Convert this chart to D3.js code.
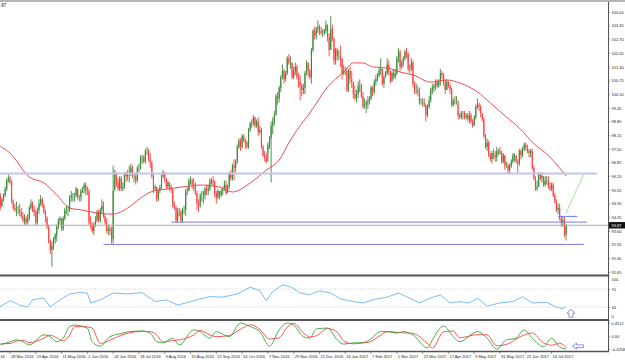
<!DOCTYPE html>
<html>
<head>
<meta charset="utf-8">
<script src="https://cdn.jsdelivr.net/npm/d3@7"></script>
<style>
  body { margin: 0; background: #fff; }
  text { font-family: 'Liberation Sans', Arial, sans-serif; }
</style>
</head>
<body>
<div class="canvas"></div>
<script>
// daily bars, one per trading day (bar 6 = 28 Mar 2016, last bar = 27 Jul 2017)
const open0 = 95.3;
const closes = [
  94.8,95.1,95.3,95.6,96.0,96.1,95.9,95.0,94.7,94.6,94.6,94.6,94.5,94.3,94.1,94.2,
  94.0,94.2,94.7,94.9,94.6,94.5,94.0,94.6,94.9,95.1,94.8,94.5,94.2,93.8,93.1,92.7,
  92.9,93.2,93.4,93.8,94.1,94.2,93.7,94.2,94.6,94.6,94.6,95.2,95.3,95.3,95.3,95.6,
  95.2,95.2,95.5,95.6,95.8,95.5,95.5,94.0,93.9,93.6,93.9,94.1,94.5,94.1,94.6,94.8,
  94.3,94.0,93.6,93.7,93.6,93.2,95.5,96.3,95.9,95.6,96.1,95.6,95.7,96.3,96.2,96.3,
  96.3,96.6,96.2,96.2,96.0,96.6,96.6,97.1,97.1,96.9,97.4,97.4,97.0,96.8,96.2,95.6,
  95.7,95.1,95.5,95.7,96.2,96.4,96.1,95.7,95.9,95.7,95.6,94.8,94.7,94.1,94.5,94.5,
  94.1,94.6,94.6,95.5,95.5,96.0,96.0,95.8,95.8,95.4,94.9,94.8,95.3,95.3,95.3,95.6,
  95.5,95.6,96.0,96.0,95.9,95.4,95.2,95.5,95.3,95.5,95.6,95.8,95.4,95.7,96.3,96.1,
  96.7,96.6,96.9,97.6,97.9,97.6,98.1,97.9,97.8,97.6,98.4,98.7,98.7,99.0,98.6,98.8,
  98.3,98.4,97.6,97.2,97.1,96.9,97.7,98.0,98.6,98.8,99.1,100.0,99.9,100.4,100.9,101.2,
  100.8,101.1,101.8,101.6,101.6,100.9,101.2,101.4,100.9,100.7,100.5,100.3,100.4,101.1,101.6,101.2,
  100.9,102.2,103.1,102.9,103.2,103.3,103.1,103.0,103.0,103.1,103.4,102.8,102.2,103.2,102.7,101.7,
  102.2,101.9,101.9,101.8,101.1,101.2,101.2,100.3,101.2,100.8,100.7,100.1,99.9,100.1,100.5,100.5,
  100.0,99.5,99.6,99.7,99.8,99.9,100.4,100.2,100.7,100.8,101.0,101.2,101.3,100.6,100.9,101.1,
  101.5,101.2,100.7,101.1,100.9,101.1,101.8,102.1,101.4,101.6,101.8,102.1,102.0,101.3,101.3,101.6,
  100.6,100.3,100.3,100.2,99.7,99.7,99.7,99.6,99.1,99.5,99.8,100.3,100.4,100.5,100.7,100.5,
  100.7,101.1,101.0,100.6,100.3,100.7,100.5,100.3,99.6,99.8,99.8,99.8,99.1,99.0,99.2,99.2,
  99.0,99.1,98.9,99.1,98.8,98.6,99.0,99.5,99.6,99.5,99.2,98.9,98.1,97.6,97.8,97.2,
  97.0,97.3,97.2,97.1,97.4,97.4,97.3,96.9,97.2,96.7,96.7,96.5,96.7,96.9,97.2,97.2,
  96.9,96.8,97.4,97.2,97.5,97.7,97.6,97.4,97.3,97.4,96.6,96.1,95.6,95.7,96.3,96.1,
  96.2,95.8,96.0,96.0,95.7,95.6,95.8,95.3,95.0,94.6,94.7,94.2,94.0,94.1,93.4,93.87
];
const highs = [
  95.4,95.2,95.4,95.7,96.1,96.3,96.2,96.0,95.1,94.9,95.0,94.8,94.9,94.7,94.5,94.4,
  94.3,94.4,94.8,95.1,95.0,94.8,94.6,94.7,95.1,95.3,95.2,94.9,94.6,94.3,93.9,93.2,
  93.1,93.3,93.5,93.9,94.2,94.3,94.2,94.3,94.7,94.8,94.8,95.3,95.5,95.4,95.4,95.7,
  95.6,95.3,95.6,95.7,95.9,95.9,95.7,95.6,94.3,94.0,94.0,94.3,94.6,94.6,94.7,95.1,
  95.0,94.4,94.2,93.9,93.9,93.8,96.7,96.5,96.4,96.1,96.2,96.2,95.9,96.4,96.4,96.5,
  96.7,96.8,96.7,96.4,96.3,96.7,96.8,97.2,97.2,97.2,97.5,97.6,97.5,97.3,96.9,96.3,
  95.8,95.7,95.6,95.8,96.3,96.5,96.4,96.1,96.0,95.9,95.8,95.6,95.0,94.8,94.7,94.7,
  94.6,94.7,94.8,95.6,95.7,96.1,96.2,96.1,96.1,95.9,95.5,95.1,95.4,95.5,95.5,95.7,
  95.8,95.8,96.1,96.1,96.2,96.0,95.5,95.6,95.5,95.6,95.7,96.0,96.0,95.8,96.4,96.5,
  96.8,97.0,97.0,97.7,98.0,98.0,98.2,98.2,98.0,97.9,98.5,98.8,98.9,99.1,99.0,98.9,
  99.0,98.6,98.5,97.7,97.4,97.3,97.8,98.1,98.8,99.0,99.3,100.1,100.2,100.5,101.0,101.5,
  101.3,101.2,101.9,102.0,101.9,101.6,101.4,101.6,101.5,101.1,101.0,100.6,100.6,101.2,101.7,101.6,
  101.3,102.3,103.2,103.3,103.3,103.6,103.4,103.3,103.2,103.2,103.6,103.4,103.0,103.8,103.4,102.8,
  102.3,102.3,102.2,102.4,101.8,101.5,101.4,101.3,101.3,101.4,101.2,100.6,100.5,100.3,100.7,100.8,
  100.6,100.2,99.9,99.8,100.0,100.0,100.5,100.5,100.8,101.0,101.1,101.4,101.8,101.3,101.0,101.2,
  101.8,101.7,101.2,101.2,101.3,101.3,101.9,102.3,102.2,101.7,101.9,102.2,102.3,102.1,101.5,101.8,
  101.7,100.7,100.6,100.5,100.4,99.9,99.9,99.9,99.6,99.6,100.0,100.4,100.6,100.6,100.8,100.8,
  100.8,101.3,101.2,101.1,100.8,100.8,100.7,100.6,100.4,99.9,100.0,100.0,99.6,99.2,99.3,99.3,
  99.3,99.2,99.2,99.3,99.2,98.9,99.1,99.6,99.9,99.7,99.6,99.2,99.0,98.2,98.0,97.9,
  97.3,97.4,97.5,97.4,97.6,97.5,97.6,97.4,97.3,97.2,96.9,96.8,96.8,97.0,97.3,97.3,
  97.2,97.0,97.5,97.5,97.6,97.8,97.8,97.7,97.5,97.5,97.5,96.7,96.2,96.0,96.4,96.3,
  96.4,96.2,96.2,96.2,96.2,95.9,95.9,95.9,95.4,95.1,94.9,94.9,94.3,94.3,94.3,93.95
];
const lows = [
  94.6,94.7,95.0,95.2,95.5,95.9,95.8,94.9,94.6,94.5,94.3,94.4,94.3,94.2,94.0,93.9,
  93.9,93.9,94.1,94.6,94.5,94.3,93.9,93.9,94.4,94.8,94.7,94.4,94.0,93.7,93.0,92.5,
  91.9,92.7,93.0,93.1,93.7,93.9,93.6,93.6,94.1,94.4,94.3,94.5,95.0,95.0,95.0,95.2,
  95.1,95.0,95.0,95.4,95.4,95.3,95.3,93.9,93.7,93.5,93.4,93.8,94.0,94.0,94.0,94.4,
  94.2,93.9,93.5,93.4,93.4,93.0,93.0,95.6,95.7,95.5,95.5,95.5,95.5,95.6,95.9,96.0,
  95.9,96.2,96.1,95.9,95.8,95.9,96.4,96.5,96.8,96.8,96.8,97.2,96.9,96.6,96.1,95.4,
  95.5,95.0,95.0,95.4,95.6,96.1,95.9,95.6,95.6,95.5,95.4,94.7,94.6,94.0,94.0,94.3,
  94.0,94.0,94.4,94.3,95.3,95.5,95.8,95.6,95.5,95.3,94.6,94.5,94.7,95.0,94.9,95.1,
  95.3,95.3,95.5,95.8,95.7,95.2,94.9,95.1,95.1,95.2,95.3,95.5,95.3,95.4,95.6,96.0,
  96.0,96.0,96.4,96.8,97.5,97.4,97.5,97.8,97.5,97.5,97.5,98.3,98.5,98.6,98.5,98.5,
  98.1,98.2,97.5,97.1,96.9,96.8,97.3,97.5,95.9,98.2,98.6,99.1,99.6,99.7,100.2,100.8,
  100.6,100.7,101.0,101.5,101.3,100.8,100.8,101.0,100.8,100.4,99.8,100.0,100.1,100.1,101.0,100.9,
  100.8,100.6,102.1,102.7,102.7,103.0,102.9,102.9,102.8,102.9,103.0,102.6,101.9,102.2,102.6,101.5,
  101.5,101.7,101.7,101.4,100.8,101.0,101.0,100.2,100.2,100.6,100.4,99.9,99.8,99.7,99.9,100.2,
  99.9,99.4,99.4,99.2,99.4,99.6,99.8,100.0,100.1,100.5,100.7,100.9,101.0,100.5,100.4,100.9,
  101.0,101.0,100.6,100.7,100.8,100.8,101.0,101.6,101.2,101.3,101.4,101.7,101.8,101.2,101.1,101.2,
  100.4,100.1,100.1,100.0,99.6,99.6,99.5,99.5,98.8,99.0,99.4,99.7,100.1,100.2,100.3,100.4,
  100.4,100.5,100.8,100.5,100.1,100.3,100.4,100.1,99.5,99.5,99.6,99.6,98.9,98.9,98.9,98.9,
  98.9,98.9,98.8,98.7,98.7,98.5,98.6,98.9,99.4,99.3,99.0,98.8,98.0,97.5,97.4,97.1,
  96.9,96.8,97.0,96.9,96.9,97.2,97.2,96.8,96.8,96.5,96.6,96.3,96.3,96.6,96.8,96.9,
  96.8,96.3,96.7,97.0,97.1,97.4,97.4,97.3,97.1,97.1,96.5,96.0,95.5,95.5,95.7,96.0,
  95.9,95.7,95.7,95.8,95.6,95.5,95.5,95.2,94.9,94.5,94.4,94.1,93.8,93.8,93.3,93.15
];

// moving average at these bars
const maBars = [0,6,18,27,35,43,51,60,70,79,87,95,103,113,124,136,144,155,165,173,180,184,192,203,213,219,225,231,240,248,256,267,277,285,296,304,314,322,330,341,351];
const maVals = [97.63,97.30,96.16,95.88,95.31,94.69,94.59,94.45,94.40,94.69,95.16,95.50,95.59,95.69,95.78,95.69,95.45,95.88,96.49,96.97,97.92,98.39,99.20,100.44,101.15,101.58,101.58,101.39,101.34,101.15,101.01,100.67,100.77,100.63,100.20,99.68,99.01,98.49,97.82,97.11,96.21];

// RSI panel
const rsiBars = [0,6,12,17,20,27,31,37,43,49,54,56,62,70,79,88,96,103,110,116,122,130,138,147,155,161,165,169,175,180,186,192,198,205,211,219,225,231,240,247,252,260,267,273,279,285,291,296,302,310,318,324,330,339,345,349,351];
const rsiVals = [31,44,34,30,46,50,30,46,59,62,61,39,46,61,59,62,42,46,34,40,46,53,52,59,74,66,44,64,79,75,61,57,66,61,48,42,39,46,52,61,53,39,50,57,39,42,39,50,32,39,42,53,39,40,30,26,32];

// oscillator panel (main + signal)
const oscBars = [0,6,10,14,18,27,31,35,39,43,46,54,57,62,68,76,80,88,93,97,101,107,111,120,124,130,134,142,149,155,161,167,173,178,182,188,192,196,203,209,213,219,225,229,236,240,246,250,256,265,268,275,281,285,296,302,308,314,320,325,330,337,342,347,351];
const oscMain = [-0.29,-0.18,-0.12,-0.18,-0.29,0.05,-0.01,-0.18,-0.06,0.33,0.38,0.28,-0.18,-0.33,-0.01,0.11,0.16,0.18,0.11,-0.18,-0.22,-0.06,-0.29,0.22,0.16,-0.06,0.16,-0.01,0.45,0.33,0.16,-0.33,0.22,0.45,0.38,-0.01,-0.06,0.25,0.28,-0.12,-0.26,-0.22,-0.21,-0.12,0.16,0.16,0.11,0.16,0.05,-0.39,-0.12,0.35,-0.01,-0.18,0.16,-0.06,-0.43,-0.12,-0.06,0.22,-0.06,-0.35,-0.06,-0.36,-0.43];
const oscSignal = [-0.25,-0.24,-0.16,-0.13,-0.21,-0.06,0.04,-0.05,-0.15,0.04,0.33,0.32,0.28,-0.24,-0.13,0.06,0.12,0.17,0.16,0.05,-0.19,-0.14,-0.12,0.05,0.20,0.05,-0.01,0.03,0.24,0.39,0.24,-0.09,-0.05,0.31,0.44,0.12,-0.02,0.02,0.26,0.15,-0.16,-0.25,-0.22,-0.19,0.04,0.16,0.14,0.12,0.10,-0.24,-0.39,0.15,0.18,-0.05,0.06,0.05,-0.32,-0.27,-0.09,0.05,0.11,-0.22,-0.30,-0.23,-0.38];

// drawn levels: [price, fromBar, toBar, kind]
const levels = [
  [96.33, -1, 370, 'zone'],
  [94.02, 106, 364, 'level'],
  [92.96, 64, 362, 'level'],
  [94.29, 346, 358, 'level']
];
const trendLine = [[351, 94.45], [362, 96.30]];
const lastPrice = 93.87;

const priceTicks = [104.00,103.35,102.70,102.05,101.40,100.75,100.10,99.45,98.80,98.15,97.50,96.85,96.20,95.55,94.90,94.25,93.60,92.95,92.30,91.65];
const rsiTicks = [100, 70, 30, 0];
const oscTicks = [0.4512, 0, -0.4258];
// first entry is the tail of a date label cut by the left edge
const dateLabels = ['16','28 Mar 2016','19 Apr 2016','11 May 2016','2 Jun 2016','24 Jun 2016','18 Jul 2016','9 Aug 2016','31 Aug 2016','22 Sep 2016','14 Oct 2016','7 Nov 2016','29 Nov 2016','21 Dec 2016','16 Jan 2017','7 Feb 2017','1 Mar 2017','23 Mar 2017','17 Apr 2017','9 May 2017','31 May 2017','22 Jun 2017','14 Jul 2017'];

const dims = {width: 625, height: 360, plotRight: 608};

const svg = d3.select('.canvas')
    .append('svg')
    .attr('width', dims.width)
    .attr('height', dims.height)
    .style('display', 'block');

const x = d3.scaleLinear().domain([-0.2, 377]).range([0, dims.plotRight]);
const y = d3.scaleLinear().domain([91.65, 104]).range([272, 12]);
const yRsi = d3.scaleLinear().domain([0, 100]).range([320.5, 275.5]);
const yOsc = d3.scaleLinear().domain([-0.4258, 0.4512]).range([349, 323]);

const defs = svg.append('defs');
defs.append('clipPath').attr('id', 'clipMain')
    .append('rect').attr('x', 0).attr('y', 2).attr('width', dims.plotRight).attr('height', 272);
defs.append('clipPath').attr('id', 'clipRsi')
    .append('rect').attr('x', 0).attr('y', 276.5).attr('width', dims.plotRight).attr('height', 43);
defs.append('clipPath').attr('id', 'clipOsc')
    .append('rect').attr('x', 0).attr('y', 321).attr('width', dims.plotRight).attr('height', 30);

// ---- main price panel ----
const main = svg.append('g').attr('clip-path', 'url(#clipMain)');

const bars = closes.map((c, i) => ({
    i: i,
    open: i ? closes[i - 1] : open0,
    high: highs[i],
    low: lows[i],
    close: c
}));

const upCol = '#3a8a3a';
const downCol = '#ff4040';

main.selectAll('.wick')
    .data(bars)
    .enter()
    .append('line')
    .attr('class', 'wick')
    .attr('x1', d => x(d.i))
    .attr('x2', d => x(d.i))
    .attr('y1', d => y(d.high))
    .attr('y2', d => y(d.low))
    .attr('stroke', d => d.close >= d.open ? upCol : downCol)
    .attr('stroke-width', 0.9);

main.selectAll('.body')
    .data(bars)
    .enter()
    .append('line')
    .attr('class', 'body')
    .attr('x1', d => x(d.i))
    .attr('x2', d => x(d.i))
    .attr('y1', d => y(d.open))
    .attr('y2', d => y(d.close))
    .attr('stroke', d => d.close >= d.open ? upCol : downCol)
    .attr('stroke-width', 1.1);

const maData = maBars.map((b, k) => ({bar: b, val: maVals[k]}));
main.append('path')
    .datum(maData)
    .attr('fill', 'none')
    .attr('stroke', '#f24d4d')
    .attr('stroke-width', 1)
    .attr('d', d3.line().x(d => x(d.bar)).y(d => y(d.val)).curve(d3.curveMonotoneX));

// horizontal levels
main.selectAll('.lvl')
    .data(levels)
    .enter()
    .append('line')
    .attr('class', 'lvl')
    .attr('x1', d => x(d[1]))
    .attr('x2', d => x(d[2]))
    .attr('y1', d => y(d[0]))
    .attr('y2', d => y(d[0]))
    .attr('stroke', d => d[3] === 'zone' ? '#c3c3f2' : '#7a7ae8')
    .attr('stroke-width', d => d[3] === 'zone' ? 2 : 1);

main.append('line')
    .attr('x1', 0).attr('x2', dims.plotRight)
    .attr('y1', y(lastPrice)).attr('y2', y(lastPrice))
    .attr('stroke', '#a3b3b3')
    .attr('stroke-width', 1);

main.append('line')
    .attr('x1', x(trendLine[0][0])).attr('y1', y(trendLine[0][1]))
    .attr('x2', x(trendLine[1][0])).attr('y2', y(trendLine[1][1]))
    .attr('stroke', '#3cc03c')
    .attr('stroke-width', 0.8)
    .attr('stroke-dasharray', '1.5,1');

// ---- RSI panel ----
const rsiG = svg.append('g').attr('clip-path', 'url(#clipRsi)');
rsiG.selectAll('.rsiLevel')
    .data([70, 30])
    .enter()
    .append('line')
    .attr('x1', 0).attr('x2', dims.plotRight)
    .attr('y1', d => yRsi(d)).attr('y2', d => yRsi(d))
    .attr('stroke', '#b8b8b8')
    .attr('stroke-width', 0.7)
    .attr('stroke-dasharray', '1,1.5');

const rsiData = rsiBars.map((b, k) => ({bar: b, val: rsiVals[k]}));
rsiG.append('path')
    .datum(rsiData)
    .attr('fill', 'none')
    .attr('stroke', '#6cb3f5')
    .attr('stroke-width', 0.9)
    .attr('d', d3.line().x(d => x(d.bar)).y(d => yRsi(d.val)));

// ---- oscillator panel ----
const oscG = svg.append('g').attr('clip-path', 'url(#clipOsc)');
const oscLine = key => d3.line()
    .x(d => x(d.bar))
    .y(d => yOsc(d[key]))
    .curve(d3.curveMonotoneX);
const oscData = oscBars.map((b, k) => ({bar: b, main: oscMain[k], signal: oscSignal[k]}));

oscG.append('path')
    .datum(oscData)
    .attr('fill', 'none')
    .attr('stroke', '#ff4040')
    .attr('stroke-width', 0.9)
    .attr('d', oscLine('signal'));

oscG.append('path')
    .datum(oscData)
    .attr('fill', 'none')
    .attr('stroke', '#3aa03a')
    .attr('stroke-width', 0.9)
    .attr('d', oscLine('main'));

// hollow arrows
svg.append('path')
    .attr('d', () => {
        const cx = x(354), top = yRsi(25), h = 8;
        return `M${cx},${top} L${cx + 4},${top + 4} L${cx + 2},${top + 4} L${cx + 2},${top + h} L${cx - 2},${top + h} L${cx - 2},${top + 4} L${cx - 4},${top + 4} Z`;
    })
    .attr('fill', '#fff')
    .attr('stroke', '#7070ee')
    .attr('stroke-width', 0.8);

svg.append('path')
    .attr('d', () => {
        const tip = x(355), cy = yOsc(-0.33);
        return `M${tip},${cy} L${tip + 4},${cy - 3} L${tip + 4},${cy - 1.3} L${tip + 11},${cy - 1.3} L${tip + 11},${cy + 1.3} L${tip + 4},${cy + 1.3} L${tip + 4},${cy + 3} Z`;
    })
    .attr('fill', '#fff')
    .attr('stroke', '#7070ee')
    .attr('stroke-width', 0.8);

// ---- frames ----
svg.append('line')
    .attr('x1', 0).attr('x2', dims.width)
    .attr('y1', 1).attr('y2', 1)
    .attr('stroke', '#b4b4b4').attr('stroke-width', 2);

svg.selectAll('.sep')
    .data([275.5, 320, 351.5])
    .enter()
    .append('line')
    .attr('x1', 0).attr('x2', dims.plotRight + 1)
    .attr('y1', d => d).attr('y2', d => d)
    .attr('stroke', '#555').attr('stroke-width', d => d === 351.5 ? 1.5 : 2);

svg.append('line')
    .attr('x1', dims.plotRight + 0.5).attr('x2', dims.plotRight + 0.5)
    .attr('y1', 2).attr('y2', 352)
    .attr('stroke', '#555').attr('stroke-width', 1);

// ---- right axes ----
const styleAxis = g => {
    g.select('.domain').remove();
    g.selectAll('.tick line').attr('stroke', '#555').attr('stroke-width', 0.6);
    g.selectAll('.tick text')
        .attr('font-size', 4)
        .attr('fill', '#222')
        .attr('font-family', 'Liberation Sans, Arial, sans-serif');
};

svg.append('g')
    .attr('transform', `translate(${dims.plotRight}, 0)`)
    .call(d3.axisRight(y).tickValues(priceTicks).tickFormat(d3.format('.2f')).tickSize(2).tickPadding(1.5))
    .call(styleAxis);

svg.append('g')
    .attr('transform', `translate(${dims.plotRight}, 0)`)
    .call(d3.axisRight(yRsi).tickValues(rsiTicks).tickSize(2).tickPadding(1.5))
    .call(styleAxis)
    .call(g => g.selectAll('.tick text')
        .attr('dy', d => d === 0 ? '-0.1em' : '0.32em')
        .attr('y', d => d === 100 ? 3.5 : d === 0 ? -2.5 : 0));

svg.append('g')
    .attr('transform', `translate(${dims.plotRight}, 0)`)
    .call(d3.axisRight(yOsc).tickValues(oscTicks).tickSize(2).tickPadding(1.5)
        .tickFormat(d => d === 0 ? '0.00' : d.toFixed(4)))
    .call(styleAxis);

// last price box
const lp = svg.append('g').attr('transform', `translate(${dims.plotRight + 1}, ${y(lastPrice)})`);
lp.append('rect')
    .attr('x', 0).attr('y', -3.2)
    .attr('width', 16).attr('height', 6.4)
    .attr('fill', '#111');
lp.append('text')
    .attr('x', 2.5).attr('y', 1.4)
    .attr('font-size', 4)
    .attr('fill', '#fff')
    .text(d3.format('.2f')(lastPrice));

// ---- date axis ----
const dateG = svg.append('g');
const dates = dateLabels.map((t, k) => ({bar: -10 + 16 * k, label: t}));
dateG.selectAll('.dtick')
    .data(dates.slice(1))
    .enter()
    .append('line')
    .attr('x1', d => x(d.bar)).attr('x2', d => x(d.bar))
    .attr('y1', 352).attr('y2', 354)
    .attr('stroke', '#555').attr('stroke-width', 0.6);
dateG.selectAll('.dlabel')
    .data(dates)
    .enter()
    .append('text')
    .attr('x', (d, k) => k === 0 ? 0.3 : x(d.bar) + 1)
    .attr('y', 357.5)
    .attr('font-size', 4)
    .attr('fill', '#222')
    .text(d => d.label);

// title fragment at top left
svg.append('text')
    .attr('x', 0).attr('y', 7)
    .attr('font-size', 4.5)
    .attr('fill', '#222')
    .text('.87');
</script>
</body>
</html>
